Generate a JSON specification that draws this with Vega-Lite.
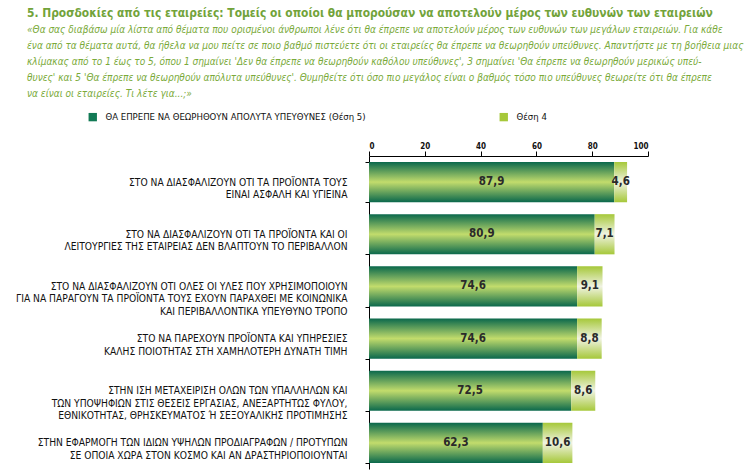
{
  "$schema": "https://vega.github.io/schema/vega-lite/v6.json",
  "width": 279,
  "height": 313,
  "autosize": "none",
  "padding": {"left": 369, "top": 156, "right": 102, "bottom": 1},
  "background": "white",
  "config": {
    "view": {"stroke": null},
    "locale": {"number": {"decimal": ",", "thousands": ".", "grouping": [3], "currency": ["", "€"]}}
  },
  "title": {
    "text": "5. Προσδοκίες από τις εταιρείες: Τομείς οι οποίοι θα μπορούσαν να αποτελούν μέρος των ευθυνών των εταιρειών",
    "subtitle": [
      "«Θα σας διαβάσω μία λίστα από θέματα που ορισμένοι άνθρωποι λένε ότι θα έπρεπε να αποτελούν μέρος των ευθυνών των μεγάλων εταιρειών. Για κάθε",
      "ένα από τα θέματα αυτά, θα ήθελα να μου πείτε σε ποιο βαθμό πιστεύετε ότι οι εταιρείες θα έπρεπε να θεωρηθούν υπεύθυνες. Απαντήστε με τη βοήθεια μιας",
      "κλίμακας από το 1 έως το 5, όπου 1 σημαίνει 'Δεν θα έπρεπε να θεωρηθούν καθόλου υπεύθυνες', 3 σημαίνει 'Θα έπρεπε να θεωρηθούν μερικώς υπεύ-",
      "θυνες' και 5 'Θα έπρεπε να θεωρηθούν απόλυτα υπεύθυνες'. Θυμηθείτε ότι όσο πιο μεγάλος είναι ο βαθμός τόσο πιο υπεύθυνες θεωρείτε ότι θα έπρεπε",
      "να είναι οι εταιρείες. Τι λέτε για...;»"
    ],
    "anchor": "start",
    "frame": "group",
    "dx": -342,
    "offset": 12,
    "font": "DejaVu Sans Condensed, DejaVu Sans, sans-serif",
    "fontSize": 11.9,
    "fontWeight": "bold",
    "color": "#72a33a",
    "subtitleFont": "DejaVu Sans Condensed, DejaVu Sans, sans-serif",
    "subtitleFontSize": 10,
    "subtitleFontStyle": "italic",
    "subtitleColor": "#7aaa3a",
    "subtitleLineHeight": 16,
    "subtitlePadding": 5
  },
  "data": {
    "values": [
      {"item": "ΣΤΟ ΝΑ ΔΙΑΣΦΑΛΙΖΟΥΝ ΟΤΙ ΤΑ ΠΡΟΪΟΝΤΑ ΤΟΥΣ|ΕΙΝΑΙ ΑΣΦΑΛΗ ΚΑΙ ΥΓΙΕΙΝΑ", "order": 1, "series": "ΘΑ ΕΠΡΕΠΕ ΝΑ ΘΕΩΡΗΘΟΥΝ ΑΠΟΛΥΤΑ ΥΠΕΥΘΥΝΕΣ (Θέση 5)", "rank": 1, "value": 87.9},
      {"item": "ΣΤΟ ΝΑ ΔΙΑΣΦΑΛΙΖΟΥΝ ΟΤΙ ΤΑ ΠΡΟΪΟΝΤΑ ΤΟΥΣ|ΕΙΝΑΙ ΑΣΦΑΛΗ ΚΑΙ ΥΓΙΕΙΝΑ", "order": 1, "series": "Θέση 4", "rank": 2, "value": 4.6},
      {"item": "ΣΤΟ ΝΑ ΔΙΑΣΦΑΛΙΖΟΥΝ ΟΤΙ ΤΑ ΠΡΟΪΟΝΤΑ ΚΑΙ ΟΙ|ΛΕΙΤΟΥΡΓΙΕΣ ΤΗΣ ΕΤΑΙΡΕΙΑΣ ΔΕΝ ΒΛΑΠΤΟΥΝ ΤΟ ΠΕΡΙΒΑΛΛΟΝ", "order": 2, "series": "ΘΑ ΕΠΡΕΠΕ ΝΑ ΘΕΩΡΗΘΟΥΝ ΑΠΟΛΥΤΑ ΥΠΕΥΘΥΝΕΣ (Θέση 5)", "rank": 1, "value": 80.9},
      {"item": "ΣΤΟ ΝΑ ΔΙΑΣΦΑΛΙΖΟΥΝ ΟΤΙ ΤΑ ΠΡΟΪΟΝΤΑ ΚΑΙ ΟΙ|ΛΕΙΤΟΥΡΓΙΕΣ ΤΗΣ ΕΤΑΙΡΕΙΑΣ ΔΕΝ ΒΛΑΠΤΟΥΝ ΤΟ ΠΕΡΙΒΑΛΛΟΝ", "order": 2, "series": "Θέση 4", "rank": 2, "value": 7.1},
      {"item": "ΣΤΟ ΝΑ ΔΙΑΣΦΑΛΙΖΟΥΝ ΟΤΙ ΟΛΕΣ ΟΙ ΥΛΕΣ ΠΟΥ ΧΡΗΣΙΜΟΠΟΙΟΥΝ|ΓΙΑ ΝΑ ΠΑΡΑΓΟΥΝ ΤΑ ΠΡΟΪΟΝΤΑ ΤΟΥΣ ΕΧΟΥΝ ΠΑΡΑΧΘΕΙ ΜΕ ΚΟΙΝΩΝΙΚΑ|ΚΑΙ ΠΕΡΙΒΑΛΛΟΝΤΙΚΑ ΥΠΕΥΘΥΝΟ ΤΡΟΠΟ", "order": 3, "series": "ΘΑ ΕΠΡΕΠΕ ΝΑ ΘΕΩΡΗΘΟΥΝ ΑΠΟΛΥΤΑ ΥΠΕΥΘΥΝΕΣ (Θέση 5)", "rank": 1, "value": 74.6},
      {"item": "ΣΤΟ ΝΑ ΔΙΑΣΦΑΛΙΖΟΥΝ ΟΤΙ ΟΛΕΣ ΟΙ ΥΛΕΣ ΠΟΥ ΧΡΗΣΙΜΟΠΟΙΟΥΝ|ΓΙΑ ΝΑ ΠΑΡΑΓΟΥΝ ΤΑ ΠΡΟΪΟΝΤΑ ΤΟΥΣ ΕΧΟΥΝ ΠΑΡΑΧΘΕΙ ΜΕ ΚΟΙΝΩΝΙΚΑ|ΚΑΙ ΠΕΡΙΒΑΛΛΟΝΤΙΚΑ ΥΠΕΥΘΥΝΟ ΤΡΟΠΟ", "order": 3, "series": "Θέση 4", "rank": 2, "value": 9.1},
      {"item": "ΣΤΟ ΝΑ ΠΑΡΕΧΟΥΝ ΠΡΟΪΟΝΤΑ ΚΑΙ ΥΠΗΡΕΣΙΕΣ|ΚΑΛΗΣ ΠΟΙΟΤΗΤΑΣ ΣΤΗ ΧΑΜΗΛΟΤΕΡΗ ΔΥΝΑΤΗ ΤΙΜΗ", "order": 4, "series": "ΘΑ ΕΠΡΕΠΕ ΝΑ ΘΕΩΡΗΘΟΥΝ ΑΠΟΛΥΤΑ ΥΠΕΥΘΥΝΕΣ (Θέση 5)", "rank": 1, "value": 74.6},
      {"item": "ΣΤΟ ΝΑ ΠΑΡΕΧΟΥΝ ΠΡΟΪΟΝΤΑ ΚΑΙ ΥΠΗΡΕΣΙΕΣ|ΚΑΛΗΣ ΠΟΙΟΤΗΤΑΣ ΣΤΗ ΧΑΜΗΛΟΤΕΡΗ ΔΥΝΑΤΗ ΤΙΜΗ", "order": 4, "series": "Θέση 4", "rank": 2, "value": 8.8},
      {"item": "ΣΤΗΝ ΙΣΗ ΜΕΤΑΧΕΙΡΙΣΗ ΟΛΩΝ ΤΩΝ ΥΠΑΛΛΗΛΩΝ ΚΑΙ|ΤΩΝ ΥΠΟΨΗΦΙΩΝ ΣΤΙΣ ΘΕΣΕΙΣ ΕΡΓΑΣΙΑΣ, ΑΝΕΞΑΡΤΗΤΩΣ ΦΥΛΟΥ,|ΕΘΝΙΚΟΤΗΤΑΣ, ΘΡΗΣΚΕΥΜΑΤΟΣ Ή ΣΕΞΟΥΑΛΙΚΗΣ ΠΡΟΤΙΜΗΣΗΣ", "order": 5, "series": "ΘΑ ΕΠΡΕΠΕ ΝΑ ΘΕΩΡΗΘΟΥΝ ΑΠΟΛΥΤΑ ΥΠΕΥΘΥΝΕΣ (Θέση 5)", "rank": 1, "value": 72.5},
      {"item": "ΣΤΗΝ ΙΣΗ ΜΕΤΑΧΕΙΡΙΣΗ ΟΛΩΝ ΤΩΝ ΥΠΑΛΛΗΛΩΝ ΚΑΙ|ΤΩΝ ΥΠΟΨΗΦΙΩΝ ΣΤΙΣ ΘΕΣΕΙΣ ΕΡΓΑΣΙΑΣ, ΑΝΕΞΑΡΤΗΤΩΣ ΦΥΛΟΥ,|ΕΘΝΙΚΟΤΗΤΑΣ, ΘΡΗΣΚΕΥΜΑΤΟΣ Ή ΣΕΞΟΥΑΛΙΚΗΣ ΠΡΟΤΙΜΗΣΗΣ", "order": 5, "series": "Θέση 4", "rank": 2, "value": 8.6},
      {"item": "ΣΤΗΝ ΕΦΑΡΜΟΓΗ ΤΩΝ ΙΔΙΩΝ ΥΨΗΛΩΝ ΠΡΟΔΙΑΓΡΑΦΩΝ / ΠΡΟΤΥΠΩΝ|ΣΕ ΟΠΟΙΑ ΧΩΡΑ ΣΤΟΝ ΚΟΣΜΟ ΚΑΙ ΑΝ ΔΡΑΣΤΗΡΙΟΠΟΙΟΥΝΤΑΙ", "order": 6, "series": "ΘΑ ΕΠΡΕΠΕ ΝΑ ΘΕΩΡΗΘΟΥΝ ΑΠΟΛΥΤΑ ΥΠΕΥΘΥΝΕΣ (Θέση 5)", "rank": 1, "value": 62.3},
      {"item": "ΣΤΗΝ ΕΦΑΡΜΟΓΗ ΤΩΝ ΙΔΙΩΝ ΥΨΗΛΩΝ ΠΡΟΔΙΑΓΡΑΦΩΝ / ΠΡΟΤΥΠΩΝ|ΣΕ ΟΠΟΙΑ ΧΩΡΑ ΣΤΟΝ ΚΟΣΜΟ ΚΑΙ ΑΝ ΔΡΑΣΤΗΡΙΟΠΟΙΟΥΝΤΑΙ", "order": 6, "series": "Θέση 4", "rank": 2, "value": 10.6}
    ]
  },
  "transform": [
    {"stack": "value", "groupby": ["item"], "sort": [{"field": "rank", "order": "ascending"}], "as": ["x0", "x1"]}
  ],
  "encoding": {
    "y": {
      "field": "item",
      "type": "nominal",
      "sort": {"field": "order", "op": "min", "order": "ascending"},
      "scale": {"paddingInner": 0.23, "paddingOuter": 0.115},
      "axis": {
        "title": null,
        "labelExpr": "split(datum.label, '|')",
        "labelFont": "DejaVu Sans Condensed, DejaVu Sans, sans-serif",
        "labelFontSize": 10.2,
        "labelColor": "#111111",
        "labelLineHeight": 12.5,
        "labelPadding": 18,
        "labelLimit": 400,
        "tickBand": "extent",
        "tickSize": 4,
        "tickColor": "#000000",
        "domainColor": "#000000",
        "labelAlign": "right",
        "labelBaseline": "middle"
      }
    }
  },
  "layer": [
    {
      "mark": {"type": "bar", "cornerRadius": 0},
      "encoding": {
        "x": {
          "field": "x0",
          "type": "quantitative",
          "scale": {"domain": [0, 100], "nice": false},
          "axis": {
            "orient": "top",
            "title": null,
            "values": [0, 20, 40, 60, 80, 100],
            "grid": false,
            "labelFont": "DejaVu Sans Condensed, DejaVu Sans, sans-serif",
            "labelFontSize": 8,
            "labelFontWeight": "bold",
            "labelColor": "#111111",
            "labelPadding": 1,
            "tickSize": 5,
            "tickColor": "#000000",
            "domainColor": "#000000"
          }
        },
        "x2": {"field": "x1"},
        "fill": {
          "condition": {
            "test": "datum.rank === 1",
            "value": {
              "gradient": "linear", "x1": 0, "y1": 0, "x2": 0, "y2": 1,
              "stops": [
                {"offset": 0, "color": "#0a684c"},
                {"offset": 0.5, "color": "#c2dc6c"},
                {"offset": 1, "color": "#0a684c"}
              ]
            }
          },
          "value": {
            "gradient": "linear", "x1": 0, "y1": 0, "x2": 0, "y2": 1,
            "stops": [
              {"offset": 0, "color": "#a6c83a"},
              {"offset": 0.5, "color": "#f0f3e2"},
              {"offset": 1, "color": "#a6c83a"}
            ]
          }
        }
      }
    },
    {
      "mark": {"type": "square", "opacity": 0},
      "encoding": {
        "x": {"field": "x1", "type": "quantitative"},
        "color": {
          "field": "series",
          "type": "nominal",
          "scale": {"domain": ["ΘΑ ΕΠΡΕΠΕ ΝΑ ΘΕΩΡΗΘΟΥΝ ΑΠΟΛΥΤΑ ΥΠΕΥΘΥΝΕΣ (Θέση 5)", "Θέση 4"], "range": ["#127a55", "#a6c83a"]},
          "legend": {
            "title": null,
            "orient": "none",
            "legendX": -281,
            "legendY": -44,
            "direction": "horizontal",
            "columns": 2,
            "columnPadding": 133,
            "symbolType": "square",
            "symbolSize": 70,
            "symbolOpacity": 1,
            "symbolStrokeWidth": 0,
            "labelFont": "DejaVu Sans Condensed, DejaVu Sans, sans-serif",
            "labelFontSize": 9.5,
            "labelColor": "#111111",
            "labelOffset": 8,
            "labelLimit": 400
          }
        }
      }
    },
    {
      "transform": [
        {"fold": ["x0", "x1"], "as": ["edge", "pos"]},
        {"aggregate": [{"op": "mean", "field": "pos", "as": "mid"}], "groupby": ["item", "order", "rank", "value"]}
      ],
      "mark": {"type": "text", "font": "DejaVu Sans Condensed, DejaVu Sans, sans-serif", "fontSize": 11.5, "fontWeight": "bold", "color": "#2a2a2a", "align": "center", "baseline": "middle"},
      "encoding": {
        "x": {"field": "mid", "type": "quantitative"},
        "text": {"field": "value", "type": "quantitative", "format": ".1f"}
      }
    }
  ]
}
